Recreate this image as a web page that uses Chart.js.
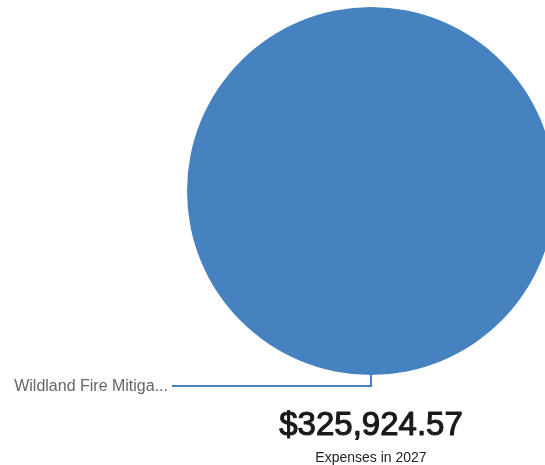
<!DOCTYPE html>
<html>
<head>
<meta charset="utf-8">
<script src="https://cdn.jsdelivr.net/npm/chart.js@4"></script>
<style>
  html, body { margin: 0; padding: 0; background: #fff; overflow: hidden; }
  #wrap { width: 545px; height: 465px; overflow: hidden; }
  canvas { display: block; }
</style>
</head>
<body>
<div id="wrap"><canvas id="c" width="600" height="465"></canvas></div>
<script>
// Expense categories and their amounts for the year
const categories = ['Wildland Fire Mitigation'];
const expenses = [325924.57];
const budgetYear = 2027;
const sliceColors = ['#4682C0'];

const total = expenses.reduce((a, b) => a + b, 0);
const money = new Intl.NumberFormat('en-US', { style: 'currency', currency: 'USD', minimumFractionDigits: 2 });

function shorten(text, max) {
  return text.length > max ? text.slice(0, max) + '...' : text;
}

// Leader lines with category labels, plus the total below the pie
const calloutPlugin = {
  id: 'callouts',
  afterDraw(chart) {
    const ctx = chart.ctx;
    const meta = chart.getDatasetMeta(0);
    meta.data.forEach((arc, i) => {
      const p = arc.getProps(['x', 'y', 'startAngle', 'endAngle', 'outerRadius'], true);
      const mid = (p.startAngle + p.endAngle) / 2;
      const sx = p.x + Math.cos(mid) * p.outerRadius;
      const sy = p.y + Math.sin(mid) * p.outerRadius;
      const ey = sy + 11;
      const ex = 172;
      ctx.save();
      ctx.strokeStyle = sliceColors[i % sliceColors.length];
      ctx.lineWidth = 2;
      ctx.beginPath();
      ctx.moveTo(sx, sy);
      ctx.lineTo(sx, ey);
      ctx.lineTo(ex, ey);
      ctx.stroke();
      ctx.fillStyle = '#666';
      ctx.font = '16px "Liberation Sans", Arial, sans-serif';
      ctx.textAlign = 'right';
      ctx.textBaseline = 'middle';
      ctx.fillText(shorten(categories[i], 20), ex - 4, ey + 1);
      ctx.restore();
    });

    const cx = meta.data[0].x;
    ctx.save();
    ctx.textAlign = 'center';
    ctx.textBaseline = 'alphabetic';
    ctx.fillStyle = '#1a1a1a';
    ctx.strokeStyle = '#1a1a1a';
    ctx.lineWidth = 1.1;
    ctx.lineJoin = 'round';
    ctx.font = '33px "Liberation Sans", Arial, sans-serif';
    ctx.fillText(money.format(total), cx, 435);
    ctx.strokeText(money.format(total), cx, 435);
    ctx.fillStyle = '#222';
    ctx.font = '14px "Liberation Sans", Arial, sans-serif';
    ctx.fillText('Expenses in ' + budgetYear, cx, 462);
    ctx.restore();
  }
};

new Chart(document.getElementById('c'), {
  type: 'pie',
  data: {
    labels: categories,
    datasets: [{
      data: expenses,
      backgroundColor: sliceColors,
      borderWidth: 0
    }]
  },
  options: {
    responsive: false,
    animation: false,
    events: [],
    layout: { padding: { left: 187, top: 7, right: 45, bottom: 90 } },
    plugins: {
      legend: { display: false },
      tooltip: { enabled: false }
    }
  },
  plugins: [calloutPlugin]
});
</script>
</body>
</html>
